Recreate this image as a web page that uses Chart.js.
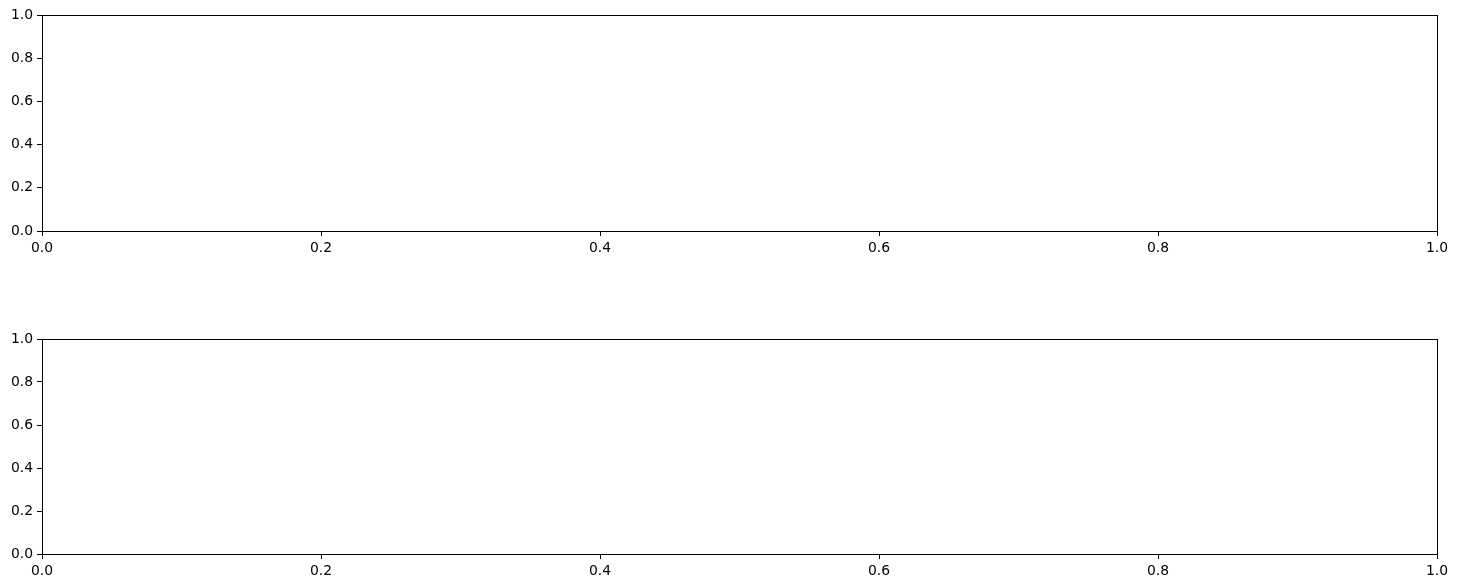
<!DOCTYPE html>
<html>
<head>
<meta charset="utf-8">
<script src="https://cdn.jsdelivr.net/npm/chart.js@4/dist/chart.umd.min.js"></script>
<style>
  html, body { margin: 0; padding: 0; background: #fff; }
  body { width: 1457px; height: 588px; position: relative; overflow: hidden; }
  canvas { position: absolute; left: 0; }
</style>
</head>
<body>
<canvas id="top" width="1457" height="270" style="top:0"></canvas>
<canvas id="bottom" width="1457" height="264" style="top:324px"></canvas>
<script>
// both panels are empty axes, only the ticks are real content
const xTicks = [0.0, 0.2, 0.4, 0.6, 0.8, 1.0];
const yTicks = [0.0, 0.2, 0.4, 0.6, 0.8, 1.0];
const topPoints = [];
const bottomPoints = [];

const frame = {
  id: 'frame',
  afterDraw(chart) {
    const a = chart.chartArea, ctx = chart.ctx;
    ctx.save();
    ctx.strokeStyle = '#000';
    ctx.lineWidth = 1;
    ctx.strokeRect(Math.round(a.left) + 0.5, Math.round(a.top) + 0.5,
      Math.round(a.right - a.left), Math.round(a.bottom - a.top));
    ctx.restore();
  }
};

function makeAxes(id, points, xHeight) {
  const font = { family: 'DejaVu Sans', size: 13.9 };
  new Chart(document.getElementById(id), {
    type: 'scatter',
    data: { datasets: [{ data: points, showLine: false }] },
    options: {
      responsive: false,
      animation: false,
      devicePixelRatio: 1,
      layout: { padding: { top: 15, right: 20, left: 0, bottom: 0 } },
      plugins: { legend: { display: false }, tooltip: { enabled: false } },
      scales: {
        x: {
          type: 'linear', min: 0, max: 1,
          afterBuildTicks: s => { s.ticks = xTicks.map(v => ({ value: v })); },
          afterFit: s => { s.height = xHeight; },
          grid: { drawOnChartArea: false, drawTicks: true, tickLength: 5, color: '#000' },
          border: { display: false },
          ticks: { color: '#000', font, padding: 4, maxRotation: 0,
                   callback: v => v.toFixed(1) }
        },
        y: {
          type: 'linear', min: 0, max: 1,
          afterBuildTicks: s => { s.ticks = yTicks.map(v => ({ value: v })); },
          afterFit: s => { s.width = 42; },
          grid: { drawOnChartArea: false, drawTicks: true, tickLength: 5, color: '#000' },
          border: { display: false },
          ticks: { color: '#000', font, padding: 4,
                   callback: v => v.toFixed(1) }
        }
      }
    },
    plugins: [frame]
  });
}

makeAxes('top', topPoints, 39);
makeAxes('bottom', bottomPoints, 34);
</script>
</body>
</html>
